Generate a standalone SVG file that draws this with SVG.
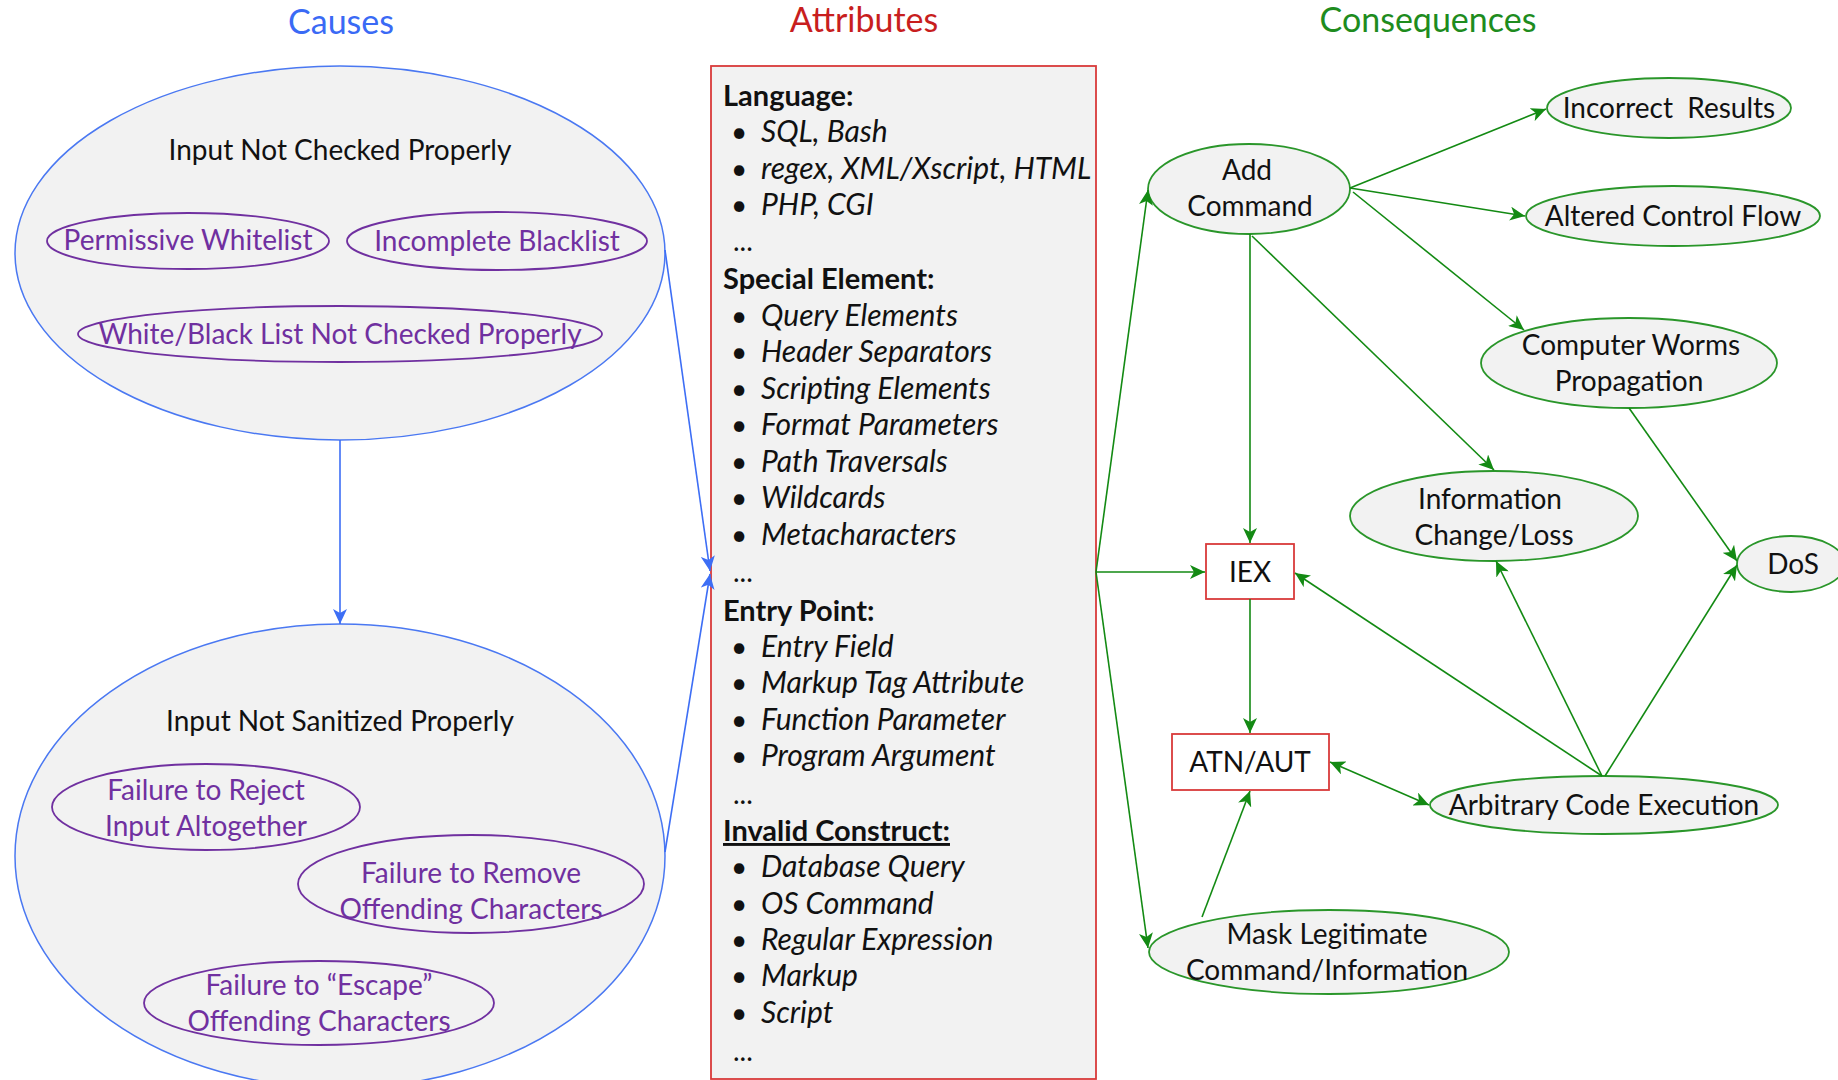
<svg xmlns="http://www.w3.org/2000/svg" width="1838" height="1080" viewBox="0 0 1838 1080">
<defs>
<marker id="ag" markerUnits="userSpaceOnUse" markerWidth="16" markerHeight="14" refX="15" refY="7" orient="auto-start-reverse"><path d="M0,0 L15,7 L0,14 L4,7 z" fill="#138A13"/></marker>
<marker id="ab" markerUnits="userSpaceOnUse" markerWidth="16" markerHeight="14" refX="15" refY="7" orient="auto-start-reverse"><path d="M0,0 L15,7 L0,14 L4,7 z" fill="#3D6EF5"/></marker>
</defs>
<style>
text{font-family:Lato,"Liberation Sans",sans-serif;}
.title{font-size:34px;text-anchor:middle;}
.big{fill:#F2F2F2;stroke:#4A78F2;stroke-width:1.5;}
.sub{fill:none;stroke:#7030A0;stroke-width:1.8;}
.cons{fill:#F2F2F2;stroke:#2A962A;stroke-width:1.8;}
.box{fill:#FFFFFF;stroke:#D93A3A;stroke-width:1.8;}
.lbl{font-size:28px;text-anchor:middle;fill:#111;}
.plbl{font-size:28px;text-anchor:middle;fill:#7030A0;}
.clbl{font-size:28px;text-anchor:middle;fill:#111;}
.hd{font-size:29px;font-weight:bold;fill:#111;}
.it{font-size:30px;font-style:italic;fill:#111;}
.bul{font-size:28px;fill:#111;}
.gl{stroke:#138A13;stroke-width:1.6;fill:none;marker-end:url(#ag);}
.bl{stroke:#3D6EF5;stroke-width:1.6;fill:none;marker-end:url(#ab);}
</style>
<rect width="1838" height="1080" fill="#FFFFFF"/>
<text class="title" x="341" y="34" fill="#3A6AF5">Causes</text>
<text class="title" x="864" y="32" fill="#C81E1E">Attributes</text>
<text class="title" x="1428" y="32" fill="#1E8C1E">Consequences</text>

<g id="cause-checked">
<ellipse class="big" cx="340" cy="253" rx="325" ry="187"/>
<text class="lbl" x="340" y="160">Input Not Checked Properly</text>
</g>
<g id="permissive-whitelist">
<ellipse class="sub" cx="188" cy="241" rx="141" ry="28"/>
<text class="plbl" x="188" y="250">Permissive Whitelist</text>
</g>
<g id="incomplete-blacklist">
<ellipse class="sub" cx="497" cy="241" rx="150" ry="29"/>
<text class="plbl" x="497" y="251">Incomplete Blacklist</text>
</g>
<g id="list-not-checked">
<ellipse class="sub" cx="340" cy="334" rx="262" ry="28"/>
<text class="plbl" x="340" y="344">White/Black List Not Checked Properly</text>
</g>

<g id="cause-sanitized">
<ellipse class="big" cx="340" cy="856" rx="325" ry="232"/>
<text class="lbl" x="340" y="731">Input Not Sanitized Properly</text>
</g>
<g id="failure-reject">
<ellipse class="sub" cx="206" cy="807" rx="154" ry="43"/>
<text class="plbl" x="206" y="800">Failure to Reject</text>
<text class="plbl" x="206" y="836">Input Altogether</text>
</g>
<g id="failure-remove">
<ellipse class="sub" cx="471" cy="884" rx="173" ry="49"/>
<text class="plbl" x="471" y="883">Failure to Remove</text>
<text class="plbl" x="471" y="919">Offending Characters</text>
</g>
<g id="failure-escape">
<ellipse class="sub" cx="319" cy="1003" rx="175" ry="42"/>
<text class="plbl" x="319" y="995">Failure to “Escape”</text>
<text class="plbl" x="319" y="1031">Offending Characters</text>
</g>

<g id="attributes">
<rect x="711" y="66" width="385" height="1013" fill="#F2F2F2" stroke="#D93A3A" stroke-width="1.8"/>
<text class="hd" x="723" y="106">Language:</text>
<text class="bul" x="731" y="142">•</text><text class="it" x="761" y="142">SQL, Bash</text>
<text class="bul" x="731" y="179">•</text><text class="it" x="761" y="179">regex, XML/Xscript, HTML</text>
<text class="bul" x="731" y="215">•</text><text class="it" x="761" y="215">PHP, CGI</text>
<text class="bul" x="733" y="251">...</text>
<text class="hd" x="723" y="289">Special Element:</text>
<text class="bul" x="731" y="326">•</text><text class="it" x="761" y="326">Query Elements</text>
<text class="bul" x="731" y="362">•</text><text class="it" x="761" y="362">Header Separators</text>
<text class="bul" x="731" y="399">•</text><text class="it" x="761" y="399">Scripting Elements</text>
<text class="bul" x="731" y="435">•</text><text class="it" x="761" y="435">Format Parameters</text>
<text class="bul" x="731" y="472">•</text><text class="it" x="761" y="472">Path Traversals</text>
<text class="bul" x="731" y="508">•</text><text class="it" x="761" y="508">Wildcards</text>
<text class="bul" x="731" y="545">•</text><text class="it" x="761" y="545">Metacharacters</text>
<text class="bul" x="733" y="582">...</text>
<text class="hd" x="723" y="621">Entry Point:</text>
<text class="bul" x="731" y="657">•</text><text class="it" x="761" y="657">Entry Field</text>
<text class="bul" x="731" y="693">•</text><text class="it" x="761" y="693">Markup Tag Attribute</text>
<text class="bul" x="731" y="730">•</text><text class="it" x="761" y="730">Function Parameter</text>
<text class="bul" x="731" y="766">•</text><text class="it" x="761" y="766">Program Argument</text>
<text class="bul" x="733" y="804">...</text>
<text class="hd" x="723" y="841" text-decoration="underline">Invalid Construct:</text>
<text class="bul" x="731" y="877">•</text><text class="it" x="761" y="877">Database Query</text>
<text class="bul" x="731" y="914">•</text><text class="it" x="761" y="914">OS Command</text>
<text class="bul" x="731" y="950">•</text><text class="it" x="761" y="950">Regular Expression</text>
<text class="bul" x="731" y="986">•</text><text class="it" x="761" y="986">Markup</text>
<text class="bul" x="731" y="1023">•</text><text class="it" x="761" y="1023">Script</text>
<text class="bul" x="733" y="1061">...</text>
</g>

<g id="add-command">
<ellipse class="cons" cx="1249" cy="189" rx="101" ry="45"/>
<text class="clbl" x="1247" y="180">Add</text>
<text class="clbl" x="1250" y="216">Command</text>
</g>
<g id="incorrect-results">
<ellipse class="cons" cx="1669" cy="108" rx="122" ry="30"/>
<text class="clbl" x="1669" y="118" xml:space="preserve">Incorrect  Results</text>
</g>
<g id="altered-control-flow">
<ellipse class="cons" cx="1673" cy="216" rx="147" ry="30"/>
<text class="clbl" x="1673" y="226">Altered Control Flow</text>
</g>
<g id="computer-worms">
<ellipse class="cons" cx="1629" cy="363" rx="148" ry="45"/>
<text class="clbl" x="1631" y="355">Computer Worms</text>
<text class="clbl" x="1629" y="391">Propagation</text>
</g>
<g id="information-change">
<ellipse class="cons" cx="1494" cy="516" rx="144" ry="45"/>
<text class="clbl" x="1490" y="509">Information</text>
<text class="clbl" x="1494" y="545">Change/Loss</text>
</g>
<g id="dos">
<ellipse class="cons" cx="1791" cy="564" rx="54" ry="28"/>
<text class="clbl" x="1793" y="574">DoS</text>
</g>
<g id="iex">
<rect class="box" x="1206" y="544" width="88" height="55"/>
<text class="clbl" x="1250" y="582">IEX</text>
</g>
<g id="atn-aut">
<rect class="box" x="1172" y="734" width="157" height="56"/>
<text class="clbl" x="1250" y="772">ATN/AUT</text>
</g>
<g id="arbitrary-code">
<ellipse class="cons" cx="1604" cy="805" rx="174" ry="29"/>
<text class="clbl" x="1604" y="815">Arbitrary Code Execution</text>
</g>
<g id="mask-legitimate">
<ellipse class="cons" cx="1329" cy="952" rx="180" ry="42"/>
<text class="clbl" x="1327" y="944">Mask Legitimate</text>
<text class="clbl" x="1327" y="980">Command/Information</text>
</g>

<g id="connectors">
<line class="bl" x1="340" y1="440" x2="340" y2="624"/>
<line class="bl" x1="665" y1="250" x2="710" y2="571"/>
<line class="bl" x1="665" y1="852" x2="710" y2="574"/>
<line class="gl" x1="1096" y1="572" x2="1205" y2="572"/>
<line class="gl" x1="1096" y1="572" x2="1148" y2="190"/>
<line class="gl" x1="1096" y1="572" x2="1148" y2="948"/>
<line class="gl" x1="1250" y1="234" x2="1250" y2="543"/>
<line class="gl" x1="1350" y1="188" x2="1546" y2="109"/>
<line class="gl" x1="1350" y1="188" x2="1525" y2="216"/>
<line class="gl" x1="1353" y1="192" x2="1524" y2="330"/>
<line class="gl" x1="1252" y1="236" x2="1494" y2="470"/>
<line class="gl" x1="1629" y1="408" x2="1737" y2="561"/>
<line class="gl" x1="1250" y1="599" x2="1250" y2="733"/>
<line class="gl" x1="1602" y1="776" x2="1295" y2="573"/>
<line class="gl" x1="1602" y1="776" x2="1496" y2="561"/>
<line class="gl" x1="1605" y1="776" x2="1737" y2="565"/>
<line class="gl" x1="1330" y1="762" x2="1429" y2="805" marker-start="url(#ag)"/>
<line class="gl" x1="1202" y1="917" x2="1250" y2="791"/>
</g>
</svg>
